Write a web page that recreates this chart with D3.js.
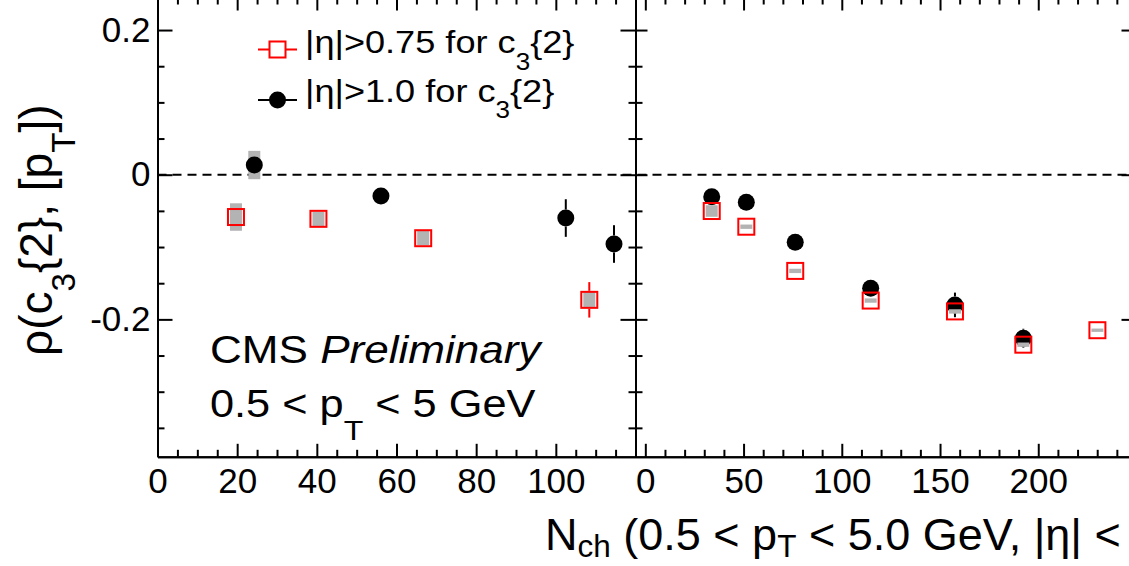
<!DOCTYPE html>
<html>
<head>
<meta charset="utf-8">
<script src="https://cdn.jsdelivr.net/npm/d3@7"></script>
<style>
  html, body { margin: 0; padding: 0; background: #fff; }
  svg { display: block; }
  text { font-family: "Liberation Sans", Arial, Helvetica, sans-serif; fill: #000; }
</style>
</head>
<body>
<svg id="chart" width="1129" height="566"></svg>
<script>
// ---- data: rho(c3{2},[pT]) vs N_ch, two panels ----
// left panel (lower multiplicity selection)
const leftN075    = [19.7, 40.4, 66.7, 108.4];
const leftRho075  = [-0.0585, -0.061, -0.0878, -0.173];
const leftStat075 = [0.005, 0.005, 0.006, 0.0245];
const leftSys075  = [0.019, 0.010, 0.010, 0.011];

const leftN10     = [24.3, 56.1, 102.5, 114.6];
const leftRho10   = [0.0134, -0.0294, -0.0599, -0.0958];
const leftStat10  = [0.006, 0.007, 0.026, 0.026];
const leftSys10   = [0.0196, 0.005, 0.005, 0.005];

// right panel (higher multiplicity selection)
const rightN075    = [33.8, 51.4, 76.3, 114.7, 157.6, 192.4, 230.1];
const rightRho075  = [-0.0502, -0.0719, -0.133, -0.174, -0.189, -0.235, -0.215];
const rightStat075 = [0.004, 0.004, 0.005, 0.006, 0.006, 0.008, 0.008];
const rightSys075  = [0.008, 0.003, 0.003, 0.003, 0.003, 0.003, 0.0023];

const rightN10    = [33.8, 51.4, 76.3, 114.7, 157.6, 192.4];
const rightRho10  = [-0.0304, -0.0382, -0.0935, -0.157, -0.180, -0.226];
const rightStat10 = [0.005, 0.005, 0.006, 0.008, 0.017, 0.013];
const rightSys10  = [0.004, 0.004, 0.004, 0.004, 0.004, 0.004];

// axis ticks
const yMajor = [-0.2, 0, 0.2];
const yMinor = [-0.35, -0.3, -0.25, -0.15, -0.1, -0.05, 0.05, 0.1, 0.15];
const xLeftMajor = [0, 20, 40, 60, 80, 100, 120];
const xLeftLabels = [0, 20, 40, 60, 80, 100];
const xLeftMinor = d3.range(5, 120, 5).filter(v => v % 20 !== 0);
const xRightMajor = [0, 50, 100, 150, 200, 250];
const xRightLabels = [0, 50, 100, 150, 200];
const xRightMinor = d3.range(10, 250, 10).filter(v => v % 50 !== 0);

const RED = "#ff0000", GREY = "#b3b3b3", FONT = "'Liberation Sans', Arial, Helvetica, sans-serif";

const svg = d3.select("#chart");
svg.append("rect").attr("width", 1129).attr("height", 566).attr("fill", "#fff");

const xL = d3.scaleLinear().domain([0, 120]).range([157.5, 635.5]);
const xR = d3.scaleLinear().domain([-5, 250]).range([635.5, 1136.5]);
const y  = d3.scaleLinear().domain([-0.39, 0.245]).range([456.8, -2.5]);
const [yBot, yTop] = y.range();

const fmtY = d => d === 0 ? "0" : (d < 0 ? "-" : "") + Math.abs(d).toFixed(1);

function styleAxis(g) {
  g.attr("font-family", FONT).attr("font-size", 35);
  g.selectAll(".domain").attr("stroke", "#000").attr("stroke-width", 2);
  g.selectAll(".tick line").attr("stroke", "#000").attr("stroke-width", 2);
  g.selectAll(".tick text").attr("fill", "#000");
}

function frame(x, xMajor, xMinor, xLabels, showYLabels) {
  const [x0, x1] = x.range();
  // bottom
  svg.append("g").attr("transform", `translate(0,${yBot})`)
    .call(d3.axisBottom(x).tickValues(xMinor).tickSize(-7).tickSizeOuter(0).tickFormat(""))
    .call(styleAxis);
  svg.append("g").attr("transform", `translate(0,${yBot})`)
    .call(d3.axisBottom(x).tickValues(xMajor).tickSize(-13).tickSizeOuter(0).tickPadding(11)
      .tickFormat(d => xLabels.includes(d) ? String(d) : ""))
    .call(styleAxis);
  // top
  svg.append("g").attr("transform", `translate(0,${yTop})`)
    .call(d3.axisTop(x).tickValues(xMinor).tickSize(-7).tickSizeOuter(0).tickFormat(""))
    .call(styleAxis);
  svg.append("g").attr("transform", `translate(0,${yTop})`)
    .call(d3.axisTop(x).tickValues(xMajor).tickSize(-13).tickSizeOuter(0).tickFormat(""))
    .call(styleAxis);
  // left
  svg.append("g").attr("transform", `translate(${x0},0)`)
    .call(d3.axisLeft(y).tickValues(yMinor).tickSize(-7).tickSizeOuter(0).tickFormat(""))
    .call(styleAxis);
  svg.append("g").attr("transform", `translate(${x0},0)`)
    .call(d3.axisLeft(y).tickValues(yMajor).tickSize(showYLabels ? -15 : -12).tickSizeOuter(0).tickPadding(7)
      .tickFormat(showYLabels ? fmtY : ""))
    .call(styleAxis);
  // right
  svg.append("g").attr("transform", `translate(${x1},0)`)
    .call(d3.axisRight(y).tickValues(yMinor).tickSize(-7).tickSizeOuter(0).tickFormat(""))
    .call(styleAxis);
  svg.append("g").attr("transform", `translate(${x1},0)`)
    .call(d3.axisRight(y).tickValues(yMajor).tickSize(-15).tickSizeOuter(0).tickFormat(""))
    .call(styleAxis);
}

frame(xL, xLeftMajor, xLeftMinor, xLeftLabels, true);
frame(xR, xRightMajor, xRightMinor, xRightLabels, false);

// dashed zero line across both panels
svg.append("line")
  .attr("x1", xL.range()[0]).attr("x2", xR.range()[1])
  .attr("y1", y(0)).attr("y2", y(0))
  .attr("stroke", "#000").attr("stroke-width", 2).attr("stroke-dasharray", "9,6");

const SQ = 8, CR = 8.5, BOXW = 6;

function series(x, ns, vals, stat, sys, kind) {
  const col = kind === "square" ? RED : "#000";
  const half = kind === "square" ? SQ + 1 : CR;
  const g = svg.append("g");
  const pts = ns.map((n, i) => ({ n, v: vals[i], s: stat[i], e: sys[i] }));
  // statistical error bars, drawn outside the marker
  pts.forEach(p => {
    const cx = x(p.n), cy = y(p.v);
    const up = y(p.v + p.s), dn = y(p.v - p.s);
    if (cy - up > half) g.append("line").attr("x1", cx).attr("x2", cx).attr("y1", up).attr("y2", cy - half)
      .attr("stroke", col).attr("stroke-width", 2);
    if (dn - cy > half) g.append("line").attr("x1", cx).attr("x2", cx).attr("y1", cy + half).attr("y2", dn)
      .attr("stroke", col).attr("stroke-width", 2);
  });
  // systematic boxes
  g.selectAll("rect.sys").data(pts).join("rect").attr("class", "sys")
    .attr("x", p => x(p.n) - BOXW).attr("width", BOXW * 2)
    .attr("y", p => y(p.v + p.e)).attr("height", p => y(p.v - p.e) - y(p.v + p.e))
    .attr("fill", GREY);
  // markers
  if (kind === "square") {
    g.selectAll("rect.mk").data(pts).join("rect").attr("class", "mk")
      .attr("x", p => x(p.n) - SQ).attr("y", p => y(p.v) - SQ)
      .attr("width", SQ * 2).attr("height", SQ * 2)
      .attr("fill", "none").attr("stroke", RED).attr("stroke-width", 2);
  } else {
    g.selectAll("circle.mk").data(pts).join("circle").attr("class", "mk")
      .attr("cx", p => x(p.n)).attr("cy", p => y(p.v)).attr("r", CR).attr("fill", "#000");
  }
}

series(xL, leftN10, leftRho10, leftStat10, leftSys10, "circle");
series(xL, leftN075, leftRho075, leftStat075, leftSys075, "square");
series(xR, rightN10, rightRho10, rightStat10, rightSys10, "circle");
series(xR, rightN075, rightRho075, rightStat075, rightSys075, "square");

// text with sub-scripts and italics
function latex(x, yPos, size, sx, segs, rotate) {
  const g = svg.append("g")
    .attr("transform", `translate(${x},${yPos})` + (rotate ? ` rotate(${rotate})` : "") + ` scale(${sx},1)`);
  const t = g.append("text").attr("font-size", size).attr("font-family", FONT);
  let off = 0;
  segs.forEach(s => {
    const target = s.sub ? size * s.sub : 0;
    const ts = t.append("tspan").text(s.t).attr("dy", target - off);
    off = target;
    if (s.sub) ts.attr("font-size", size * (s.ss || 0.75));
    if (s.it) ts.attr("font-style", "italic");
  });
  return g;
}

// legend
const legX1 = 258, legX2 = 297, legMid = 277.5;
svg.append("line").attr("x1", legX1).attr("x2", legX2).attr("y1", 49.5).attr("y2", 49.5)
  .attr("stroke", RED).attr("stroke-width", 2);
svg.append("rect").attr("x", legMid - SQ).attr("y", 49.5 - SQ).attr("width", SQ * 2).attr("height", SQ * 2)
  .attr("fill", "#fff").attr("stroke", RED).attr("stroke-width", 2);
svg.append("line").attr("x1", legX1).attr("x2", legX2).attr("y1", 100).attr("y2", 100)
  .attr("stroke", "#000").attr("stroke-width", 2);
svg.append("circle").attr("cx", legMid).attr("cy", 100).attr("r", CR).attr("fill", "#000");

latex(305, 53, 32, 1.13, [{t: "|η|>0.75 for c"}, {t: "3", sub: 0.52, ss: 0.72}, {t: "{2}"}]);
latex(305, 101.7, 32, 1.13, [{t: "|η|>1.0 for c"}, {t: "3", sub: 0.52, ss: 0.72}, {t: "{2}"}]);

// labels inside the left panel
latex(210, 363, 38, 1.16, [{t: "CMS "}, {t: "Preliminary", it: true}]);
latex(210, 416.7, 38, 1.14, [{t: "0.5 < p"}, {t: "T", sub: 0.6, ss: 0.74}, {t: " < 5 GeV"}]);

// axis titles
latex(52, 356, 46, 1.0, [{t: "ρ(c"}, {t: "3", sub: 0.5, ss: 0.72}, {t: "{2}, [p"}, {t: "T", sub: 0.5, ss: 0.72}, {t: "])"}], -90);
latex(545, 550, 45, 1.0, [{t: "N"}, {t: "ch", sub: 0.15, ss: 0.7}, {t: " (0.5 < p"}, {t: "T", sub: 0.15, ss: 0.7}, {t: " < 5.0 GeV, |η| <"}]);
</script>
</body>
</html>
